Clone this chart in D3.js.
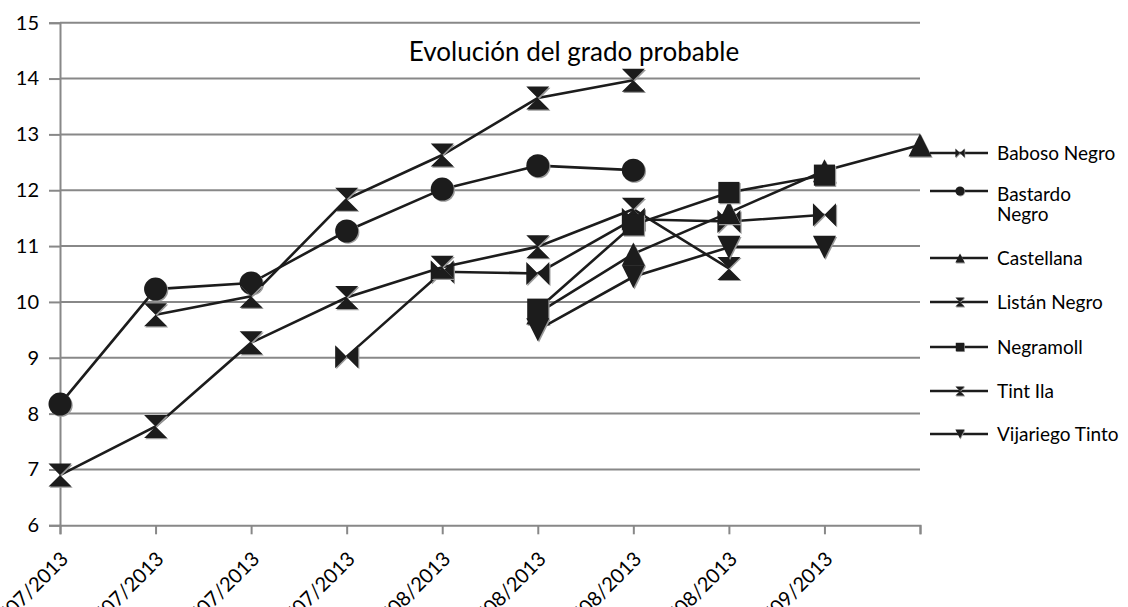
<!DOCTYPE html>
<html>
<head>
<meta charset="utf-8">
<script src="https://cdn.jsdelivr.net/npm/d3@7"></script>
<style>
  body { margin: 0; background: #fff; }
  svg { display: block; font-family: Lato, "Open Sans", sans-serif; }
</style>
</head>
<body>
<script>
// Category labels (dates), last one has no label in the chart
const fechas = ["09/07/2013", "16/07/2013", "23/07/2013", "30/07/2013", "06/08/2013",
  "13/08/2013", "20/08/2013", "27/08/2013", "03/09/2013", ""];

const variedades = ["Baboso Negro", "Bastardo Negro", "Castellana", "Listán Negro",
  "Negramoll", "Tint Ila", "Vijariego Tinto"];

// grado probable per variety (null = no sample)
const babosoNegro   = [null, null, null, 9.02, 10.54, 10.51, 11.48, 11.44, 11.56, null];
const bastardoNegro = [8.17, 10.23, 10.34, 11.27, 12.02, 12.44, 12.36, null, null, null];
const castellana    = [null, null, null, null, null, 9.8, 10.86, 11.6, 12.35, 12.81];
const listanNegro   = [6.9, 7.77, 9.27, 10.08, 10.62, 10.99, 11.66, 10.6, null, null];
const negramoll     = [null, null, null, null, null, 9.87, 11.38, 11.96, 12.27, null];
const tintIla       = [null, 9.77, 10.1, 11.84, 12.63, 13.65, 13.97, null, null, null];
const vijariego     = [null, null, null, null, null, 9.5, 10.45, 10.98, 10.98, null];

const yTicks = [6, 7, 8, 9, 10, 11, 12, 13, 14, 15];

const series = [babosoNegro, bastardoNegro, castellana, listanNegro, negramoll, tintIla, vijariego];
const markers = ["bowtie", "circle", "triUp", "hourglass", "square", "hourglass", "triDown"];

const width = 1128, height = 607;
const plot = { left: 60, right: 920, top: 22.7, bottom: 525.3 };

const svg = d3.select("body").append("svg")
  .attr("width", width)
  .attr("height", height);

const x = d3.scalePoint()
  .domain(d3.range(fechas.length))
  .range([plot.left, plot.right]);

const y = d3.scaleLinear()
  .domain([6, 15])
  .range([plot.bottom, plot.top]);

const gridColor = "#888";

// horizontal gridlines
svg.append("g")
  .selectAll("line")
  .data(yTicks.slice(1))
  .join("line")
  .attr("x1", plot.left)
  .attr("x2", plot.right)
  .attr("y1", d => y(d))
  .attr("y2", d => y(d))
  .attr("stroke", gridColor)
  .attr("stroke-width", 2);

// y axis
const yAxis = svg.append("g")
  .attr("transform", `translate(${plot.left},0)`)
  .call(d3.axisLeft(y).tickValues(yTicks).tickSize(11).tickPadding(10).tickFormat(d3.format("d")));
yAxis.select(".domain").attr("stroke", gridColor).attr("stroke-width", 2);
yAxis.selectAll(".tick line").attr("stroke", gridColor).attr("stroke-width", 2);
yAxis.selectAll(".tick text")
  .attr("fill", "#000")
  .style("font-size", "20px")
  .style("font-family", "Lato, sans-serif");

// x axis, labels rotated and partly cut by the bottom edge
const xAxis = svg.append("g")
  .attr("transform", `translate(0,${plot.bottom})`)
  .call(d3.axisBottom(x).tickSize(9).tickFormat(i => fechas[i]));
xAxis.select(".domain").attr("stroke", gridColor).attr("stroke-width", 2);
xAxis.selectAll(".tick line").attr("stroke", gridColor).attr("stroke-width", 2);
xAxis.selectAll(".tick text")
  .attr("fill", "#000")
  .attr("text-anchor", "end")
  .attr("dy", null)
  .attr("y", 0)
  .attr("transform", "translate(9,35) rotate(-45)")
  .style("font-size", "20px")
  .style("font-family", "Lato, sans-serif");

// marker shapes
function markerPath(type, s) {
  switch (type) {
    case "bowtie":
      return `M${-s},${-s}L0,0L${-s},${s}Z M${s},${-s}L0,0L${s},${s}Z`;
    case "hourglass":
      return `M${-s},${-s}L${s},${-s}L0,0Z M${-s},${s}L${s},${s}L0,0Z`;
    case "square":
      return `M${-s * 0.92},${-s * 0.92}H${s * 0.92}V${s * 0.92}H${-s * 0.92}Z`;
    case "triUp":
      return `M0,${-s}L${s},${s}L${-s},${s}Z`;
    case "triDown":
      return `M0,${s}L${s},${-s}L${-s},${-s}Z`;
    case "circle":
      return `M${-s},0A${s},${s} 0 1,0 ${s},0A${s},${s} 0 1,0 ${-s},0Z`;
  }
}

const ink = "#1c1c1c";

const line = d3.line()
  .defined(d => d.v !== null)
  .x(d => x(d.i))
  .y(d => y(d.v));

const plotG = svg.append("g");

series.forEach((vals, k) => {
  const pts = vals.map((v, i) => ({ i, v }));
  const g = plotG.append("g");
  g.append("path")
    .datum(pts)
    .attr("d", line)
    .attr("fill", "none")
    .attr("stroke", ink)
    .attr("stroke-width", 2.6);

  const valid = pts.filter(d => d.v !== null);
  g.selectAll(".shadow")
    .data(valid)
    .join("path")
    .attr("class", "shadow")
    .attr("transform", d => `translate(${x(d.i) + 1.2},${y(d.v) + 1.2})`)
    .attr("d", markerPath(markers[k], 11.5))
    .attr("fill", "#9a9a9a");
  g.selectAll(".mk")
    .data(valid)
    .join("path")
    .attr("class", "mk")
    .attr("transform", d => `translate(${x(d.i)},${y(d.v)})`)
    .attr("d", markerPath(markers[k], 11.5))
    .attr("fill", ink);
});

// title
svg.append("text")
  .attr("x", 574)
  .attr("y", 61)
  .attr("text-anchor", "middle")
  .style("font-size", "26px")
  .text("Evolución del grado probable");

// legend
const legendRows = [153, 191, 258, 302, 347, 391, 434];
const legend = svg.append("g");
variedades.forEach((name, k) => {
  const ly = legendRows[k];
  const row = legend.append("g").attr("transform", `translate(0,${ly})`);
  row.append("line")
    .attr("x1", 930).attr("x2", 988)
    .attr("stroke", ink).attr("stroke-width", 2.6);
  row.append("path")
    .attr("transform", "translate(960.6,0.8)")
    .attr("d", markerPath(markers[k], 4.6))
    .attr("fill", "#9a9a9a");
  row.append("path")
    .attr("transform", "translate(960,0)")
    .attr("d", markerPath(markers[k], 4.6))
    .attr("fill", ink);
  const lines = name === "Bastardo Negro" ? ["Bastardo", "Negro"] : [name];
  lines.forEach((txt, j) => {
    row.append("text")
      .attr("x", 997)
      .attr("y", lines.length > 1 ? 3 + j * 20 : 0)
      .attr("dy", "0.35em")
      .style("font-size", "19px")
      .text(txt);
  });
});
</script>
</body>
</html>
